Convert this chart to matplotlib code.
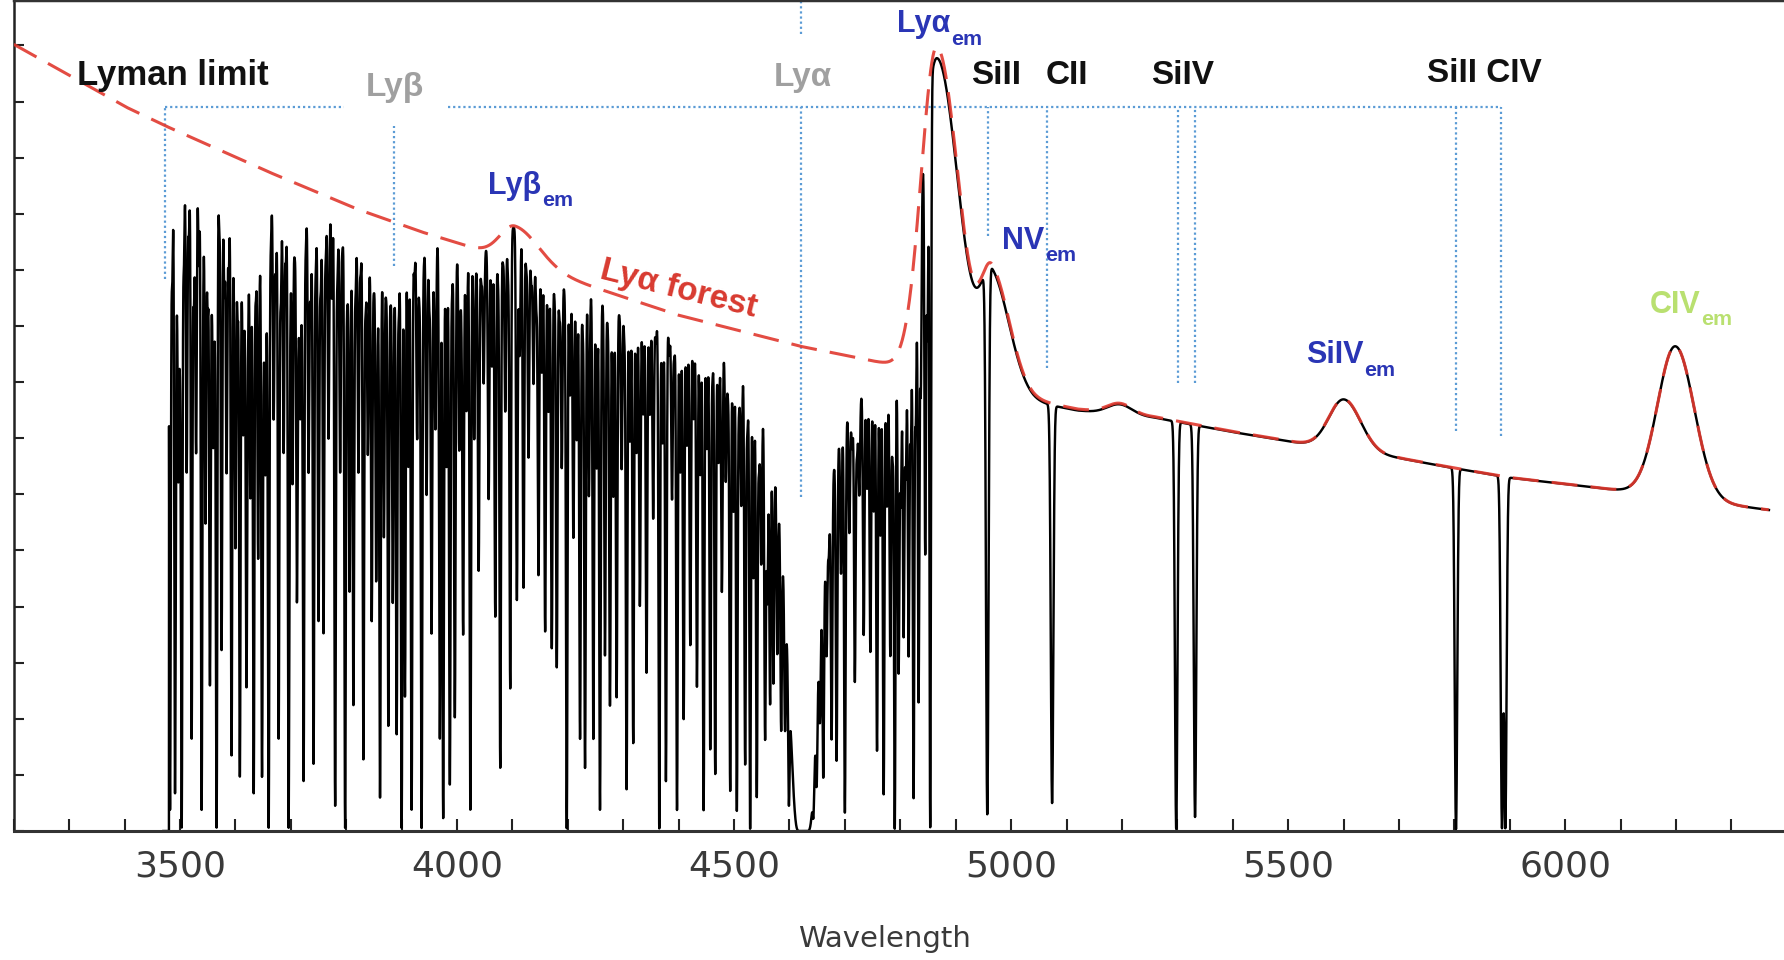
import numpy as np
import matplotlib.pyplot as plt
from matplotlib.ticker import MultipleLocator

# underlying quasar continuum (without emission lines)
base_wave = [3200, 3403, 3473, 3659, 3818, 3935, 4040, 4220, 4397, 4619, 4769, 4900,
             5040, 5120, 5260, 5400, 5520, 5700, 5800, 5900, 6100, 6370]
base_flux = [14.02, 12.9, 12.57, 11.75, 11.09, 10.68, 10.36, 9.78, 9.2, 8.64, 8.34, 8.05,
             7.68, 7.52, 7.38, 7.12, 6.92, 6.65, 6.47, 6.30, 6.07, 5.72]

# emission lines: centre, peak height above continuum, blue / red half widths
em_center = [4105, 4866, 4966, 5196, 5601, 6199]
em_amp = [0.63, 5.85, 2.0, 0.18, 0.9, 2.7]
em_sig_blue = [27, 28, 20, 22, 27, 32]
em_sig_red = [43, 39, 32, 22, 30, 34]

# strong Lya forest absorbers: centre and flux at the bottom of the line
forest_wave = [3482, 3491, 3497, 3503, 3512, 3521, 3529, 3539, 3546, 3554, 3560, 3566, 3575, 3584,
               3593, 3600, 3608, 3614, 3620, 3627, 3633, 3641, 3648, 3654, 3660, 3669, 3678, 3687,
               3696, 3703, 3711, 3717, 3723, 3732, 3741, 3750, 3759, 3768, 3780, 3789, 3798, 3806,
               3813, 3822, 3831, 3839, 3846, 3854, 3861, 3868, 3876, 3884, 3891, 3900, 3906, 3912,
               3918, 3928, 3936, 3945, 3954, 3961, 3969, 3975, 3981, 3987, 3996, 4004, 4011, 4017,
               4024, 4031, 4039, 4048, 4057, 4063, 4069, 4078, 4087, 4096, 4108, 4113, 4120, 4129,
               4138, 4147, 4153, 4159, 4165, 4171, 4180, 4189, 4198, 4204, 4210, 4216, 4222, 4231,
               4238, 4246, 4252, 4258, 4267, 4276, 4282, 4288, 4297, 4306, 4312, 4318, 4324, 4330,
               4336, 4342, 4348, 4354, 4365, 4371, 4377, 4388, 4397, 4403, 4409, 4415, 4421, 4427,
               4433, 4439, 4445, 4451, 4457, 4466, 4472, 4478, 4485, 4493, 4499, 4505, 4513, 4520,
               4529, 4535, 4541, 4549, 4556, 4560, 4565, 4661, 4667, 4676, 4685, 4693, 4700, 4708,
               4718, 4726, 4734, 4740, 4746, 4752, 4758, 4764, 4770, 4776, 4782, 4790, 4797, 4801,
               4806, 4810, 4815, 4819, 4824, 4828, 4833, 4837, 4845, 4849, 4854]
forest_min = [0.38, 0.68, 6.4, 0.0, 6.4, 1.65, 6.75, 0.38, 5.5, 2.63, 7.0, 0.0, 3.23, 6.4,
              1.35, 5.1, 0.98, 7.2, 2.63, 6.0, 0.68, 4.9, 0.98, 6.5, 0.0, 7.35, 1.65, 6.75,
              0.0, 6.2, 4.13, 7.5, 0.9, 6.4, 1.2, 3.75, 3.53, 7.0, 0.45, 6.4, 0.0, 4.3,
              2.25, 6.4, 1.28, 6.75, 3.75, 4.5, 0.6, 5.25, 1.88, 4.1, 1.73, 0.0, 2.4, 6.5,
              0.38, 7.0, 0.0, 6.0, 3.53, 7.2, 1.65, 0.23, 6.5, 0.83, 2.03, 6.8, 3.53, 7.5,
              0.38, 7.0, 4.65, 8.0, 5.93, 8.3, 3.83, 1.13, 7.5, 2.55, 4.13, 8.5, 4.35, 6.68,
              8.0, 4.58, 8.2, 3.57, 7.5, 3.27, 2.93, 6.5, 0.0, 7.8, 5.25, 7.0, 1.65, 1.13,
              6.0, 1.65, 6.5, 0.38, 3.15, 2.25, 6.0, 2.4, 6.5, 0.75, 7.0, 1.58, 6.8, 4.05,
              7.5, 2.85, 7.5, 5.63, 0.0, 7.0, 0.9, 6.0, 0.38, 6.5, 2.03, 7.0, 3.38, 7.5,
              2.63, 6.5, 0.38, 7.0, 1.5, 1.05, 6.8, 4.43, 6.5, 0.75, 6.0, 0.38, 6.2, 1.28,
              0.0, 5.0, 0.68, 5.5, 1.95, 5.0, 2.85, 1.8, 5.0, 2.25, 1.58, 5.5, 0.38, 6.0,
              2.93, 6.5, 3.75, 6.5, 3.38, 6.0, 1.5, 5.5, 0.68, 6.0, 3.23, 0.0, 2.9, 6.0,
              3.56, 6.5, 3.2, 7.0, 0.6, 7.5, 2.35, 8.0, 5.04, 9.0, 0.0]

# weaker forest absorbers filling the gaps between the strong ones
weak_wave = [3486, 3494, 3500, 3507, 3516, 3525, 3534, 3542, 3550, 3557, 3563, 3571, 3580, 3588,
             3597, 3604, 3611, 3617, 3623, 3630, 3637, 3644, 3651, 3657, 3664, 3673, 3682, 3691,
             3699, 3707, 3714, 3720, 3727, 3736, 3745, 3754, 3763, 3774, 3784, 3793, 3802, 3809,
             3817, 3826, 3835, 3842, 3850, 3857, 3864, 3872, 3880, 3887, 3895,
             3923, 3932, 3940, 3950, 3958, 3991, 4000, 4008, 4035, 4044, 4052, 4074, 4083, 4092,
             4125, 4134, 4143, 4176, 4185, 4194, 4227, 4263, 4272, 4293, 4302, 4359,
             4383, 4392, 4461, 4489, 4509, 4524, 4545, 4571, 4578, 4585, 4592, 4599, 4643, 4649,
             4655, 4671, 4713, 4722, 4786]
weak_min = [9.9, 10.5, 9.3, 10.2, 10.7, 9.5, 10.1, 10.6, 9.4, 10.3, 9.8, 10.8, 9.6, 10.0,
            10.4, 9.3, 10.6, 9.9, 9.5, 10.3, 9.7, 10.5, 9.4, 10.1, 10.6, 9.8, 9.5, 10.2,
            9.7, 10.4, 9.6, 10.0, 10.5, 9.3, 10.1, 9.7, 10.3, 9.5, 9.9, 10.4, 9.6, 10.2,
            9.7, 10.0, 9.4, 10.3, 9.8, 9.5, 10.1, 9.7, 9.6, 9.9, 9.3,
            9.9, 9.6, 10.2, 9.4, 10.0, 9.7, 10.3, 9.5, 10.1, 9.8, 10.4, 9.9, 10.2, 10.0,
            10.1, 9.8, 9.4, 9.6, 9.2, 9.7, 9.0, 9.5, 9.1, 9.3, 8.9, 8.8,
            8.6, 8.6, 8.4, 8.2, 8.1, 7.8, 7.4, 3.5, 4.6, 3.0, 3.8, 1.5, 2.5, 3.2,
            4.8, 7.3, 7.6, 7.4, 7.0]

# damped Lya absorber
dla_center = 4625
dla_strength = 845.0

# metal absorption lines redward of Lya
metal_wave = [4957, 5074, 5298, 5332, 5803, 5886, 5892]
metal_min = [0.3, 0.5, 0.0, 0.25, 0.0, 0.05, 0.05]

lyman_edge = 3480


def continuum(w):
	c = np.interp(w, base_wave, base_flux)
	for lc, a, sb, sr in zip(em_center, em_amp, em_sig_blue, em_sig_red):
		s = np.where(w < lc, sb, sr)
		c = c + a * np.exp(-0.5 * ((w - lc) / s) ** 2)
	return c


def transmission(w, centers, mins, sigma):
	tr = np.ones_like(w)
	for lc, fm in zip(centers, mins):
		c0 = continuum(np.array([lc]))[0]
		depth = min(max(1 - fm / c0, 0.0), 0.995)
		tr *= 1 - depth * np.exp(-0.5 * ((w - lc) / sigma) ** 2)
	return tr


wave = np.arange(3470, 6368, 0.2)
cont = continuum(wave)
trans = transmission(wave, forest_wave, forest_min, 1.4)
trans *= transmission(wave, weak_wave, weak_min, 1.3)
trans *= transmission(wave, metal_wave, metal_min, 2.3)
trans *= np.exp(-dla_strength / ((wave - dla_center) ** 2 + 25.0))
flux = cont * trans
flux[wave < lyman_edge] = 0.0

cwave = np.arange(3200, 6368, 0.5)

fig = plt.figure(figsize=(17.84, 9.6), dpi=100)
ax = fig.add_axes([13.8 / 1784, 129 / 960, 1 - 13.8 / 1784, 831 / 960])

ax.plot(wave, flux, color="black", lw=1.75, zorder=2)
ax.plot(cwave, continuum(cwave), color="#e0382e", lw=2.2, ls=(0, (8.5, 4.3)), alpha=0.9, zorder=3)

# dotted guide lines
dot = dict(color="#5b9bd5", lw=1.6, ls=(0, (1, 1.3)), zorder=1)
ax.plot([3473, 3796], [12.91, 12.91], **dot)
ax.plot([3984, 5884], [12.91, 12.91], **dot)
ax.plot([3473, 3473], [9.84, 12.91], **dot)
ax.plot([3886, 3886], [10.07, 12.57], **dot)
ax.plot([4620, 4620], [5.96, 12.91], **dot)
ax.plot([4620, 4620], [14.2, 14.81], **dot)
ax.plot([4958, 4958], [10.6, 12.91], **dot)
ax.plot([5065, 5065], [8.25, 12.91], **dot)
ax.plot([5301, 5301], [7.98, 12.91], **dot)
ax.plot([5332, 5332], [7.98, 12.91], **dot)
ax.plot([5803, 5803], [7.12, 12.91], **dot)
ax.plot([5884, 5884], [7.04, 12.91], **dot)

lab = dict(fontsize=24, fontweight="bold", family="Liberation Sans", ha="left", va="center")
ax.text(3314, 13.46, "Lyman limit", color="#111111", **{**lab, "fontsize": 25})
ax.text(3836, 13.25, "Lyβ", color="#a0a0a0", **lab)
ax.text(4572, 13.43, "Lyα", color="#a0a0a0", **lab)
ax.text(4928, 13.46, "SiII", color="#111111", **lab)
ax.text(5063, 13.46, "CII", color="#111111", **lab)
ax.text(5253, 13.46, "SiIV", color="#111111", **lab)
ax.text(5751, 13.5, "SiII CIV", color="#111111", **lab)


def em_label(x, y, name, color, size=22):
	t = ax.text(x, y, name, color=color, fontsize=size, fontweight="bold",
				family="Liberation Sans", ha="left", va="center")
	ax.annotate("em", xy=(1, 0), xycoords=t, xytext=(0.5, -7), textcoords="offset points",
				color=color, fontsize=size * 0.7, fontweight="bold", family="Liberation Sans",
				ha="left", va="bottom")


em_label(4794, 14.38, "Lyα", "#2a35b5")
em_label(4056, 11.5, "Lyβ", "#2a35b5")
em_label(4984, 10.52, "NV", "#2a35b5")
em_label(5533, 8.48, "SiIV", "#2a35b5")
em_label(6152, 9.38, "CIV", "#b9e070")

ax.text(4399, 9.66, "Lyα forest", rotation=-14, rotation_mode="anchor", color="#d83a30",
		fontsize=24, fontweight="bold", family="Liberation Sans", ha="center", va="center")

ax.set_xlim(3200, 6395)
ax.set_ylim(0, 14.81)
ax.xaxis.set_major_locator(MultipleLocator(500))
ax.xaxis.set_minor_locator(MultipleLocator(100))
ax.yaxis.set_major_locator(MultipleLocator(1))
ax.tick_params(axis="x", which="both", direction="in", length=9, width=1.5, color="#222222",
			   labelsize=26, labelcolor="#3a3a3a", pad=13)
ax.tick_params(axis="y", which="both", direction="in", length=7, width=1.5, color="#222222",
			   labelleft=False)
ax.xaxis.set_major_formatter(lambda v, p: f"{v:.0f}" if 3500 <= v <= 6000 else "")

ax.spines["right"].set_visible(False)
ax.spines["left"].set_linewidth(1.8)
ax.spines["left"].set_color("#222222")
ax.spines["bottom"].set_linewidth(2.2)
ax.spines["bottom"].set_color("#333333")
ax.spines["top"].set_linewidth(2.5)
ax.spines["top"].set_color("#333333")

fig.text(884 / 1784, 1 - 939 / 960, "Wavelength", ha="center", va="center", fontsize=21, color="#3a3a3a")

fig.savefig("out.png", dpi=100)
